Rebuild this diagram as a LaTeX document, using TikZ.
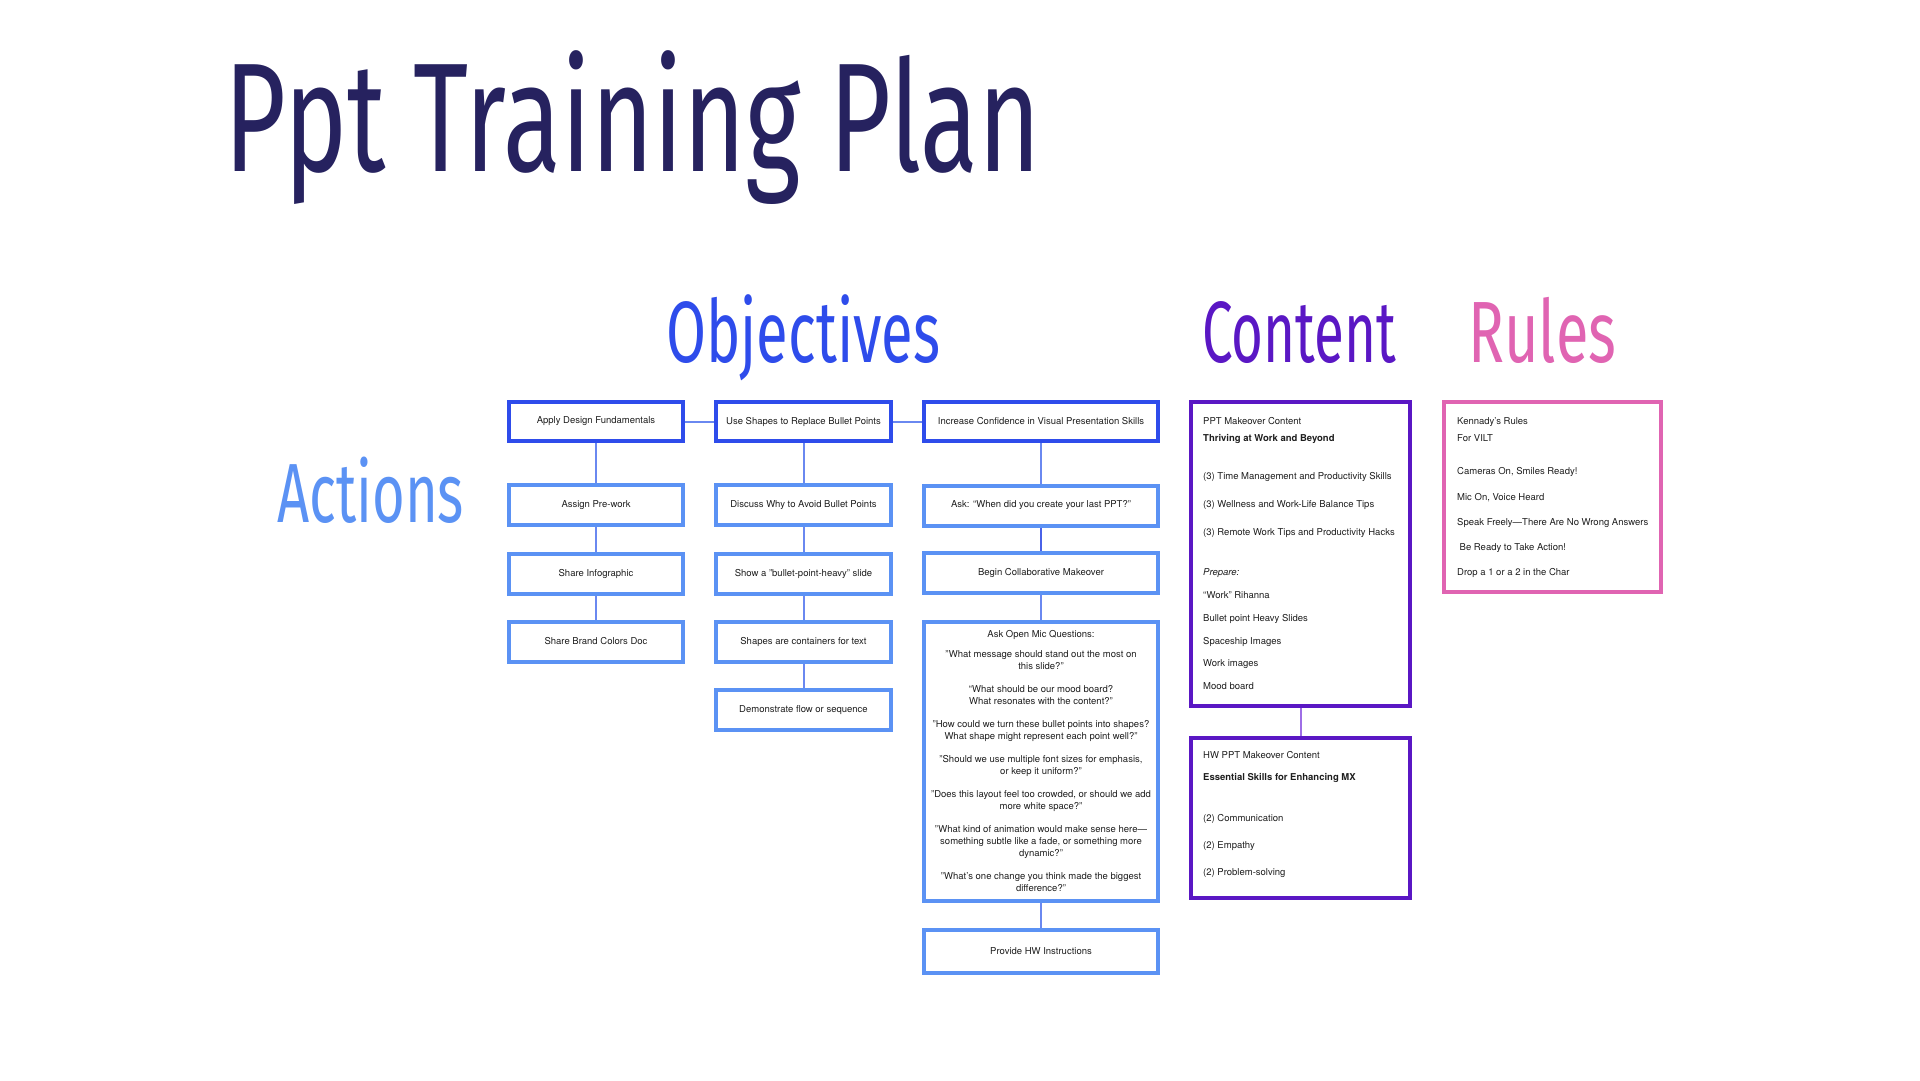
\documentclass[tikz,border=0pt]{standalone}
\usepackage{fontspec}
\setmainfont{TeX Gyre Heros}
\IfFontExistsTF{FiraSans-Light.otf}
  {\newfontfamily\headfont{FiraSans-Light.otf}}
  {\newfontfamily\headfont{Fira Sans}}
\usepackage{graphicx}

\definecolor{titlenavy}{HTML}{26225F}
\definecolor{objblue}{HTML}{2E4CEB}
\definecolor{actblue}{HTML}{5B92F4}
\definecolor{contpurple}{HTML}{5A17C4}
\definecolor{rulepink}{HTML}{E064B2}
\definecolor{linkblue}{HTML}{6A88F0}
\definecolor{linkdark}{HTML}{4A62E8}
\definecolor{linkpurple}{HTML}{9E6EE6}
\definecolor{ink}{HTML}{1E1E1E}

\newcommand\cellfont{\fontsize{9.5}{12}\selectfont}
\newcommand\headword[2]{\resizebox{#1}{\height}{#2}}

\tikzset{
  boxbase/.style={line width=4pt, inner sep=0pt, align=center, font=\cellfont, text=ink},
  objbox/.style={boxbase, draw=objblue, minimum height=39pt},
  actbox/.style={boxbase, draw=actblue, minimum height=40pt},
  contbox/.style={boxbase, draw=contpurple, minimum width=219pt},
  rulebox/.style={boxbase, draw=rulepink, minimum width=217pt},
  item/.style={anchor=base west, inner sep=0pt, font=\cellfont, text=ink},
  heading/.style={anchor=base west, inner sep=0pt},
  link/.style={draw=linkblue, line width=2pt},
}

\begin{document}
\begin{tikzpicture}[x=1pt, y=-1pt]
  \useasboundingbox (0,0) rectangle (1920,1080);

  % headings
  \node[heading, text=titlenavy, font=\headfont\fontsize{155}{155}\selectfont] (title) at (224,171) {\headword{817pt}{Ppt Training Plan}};
  \node[heading, text=objblue, font=\headfont\fontsize{87}{87}\selectfont] (objhead) at (666,362) {\headword{274pt}{Objectives}};
  \node[heading, text=contpurple, font=\headfont\fontsize{87}{87}\selectfont] (conthead) at (1202,362) {\headword{194pt}{Content}};
  \node[heading, text=rulepink, font=\headfont\fontsize{87}{87}\selectfont] (rulehead) at (1468,362) {\headword{148pt}{Rules}};
  \node[heading, text=actblue, font=\headfont\fontsize{84}{84}\selectfont] (acthead) at (277,522) {\headword{187pt}{Actions}};

  % objectives
  \node[objbox, minimum width=174pt] (apply) at (596,421.5) {Apply Design Fundamentals};
  \node[objbox, minimum width=175pt] (shapes) at (803.5,421.5) {Use Shapes to Replace Bullet Points};
  \node[objbox, minimum width=234pt] (confid) at (1041,421.5) {Increase Confidence in Visual Presentation Skills};

  % actions, first column
  \node[actbox, minimum width=174pt] (prework) at (596,505) {Assign Pre-work};
  \node[actbox, minimum width=174pt] (infog) at (596,573.5) {Share Infographic};
  \node[actbox, minimum width=174pt] (brand) at (596,641.5) {Share Brand Colors Doc};

  % actions, second column
  \node[actbox, minimum width=175pt] (discuss) at (803.5,505) {Discuss Why to Avoid Bullet Points};
  \node[actbox, minimum width=175pt] (heavy) at (803.5,573.5) {Show a "bullet-point-heavy" slide};
  \node[actbox, minimum width=175pt] (contain) at (803.5,641.5) {Shapes are containers for text};
  \node[actbox, minimum width=175pt] (flow) at (803.5,710) {Demonstrate flow or sequence};

  % actions, third column
  \node[actbox, minimum width=234pt] (askppt) at (1041,505.5) {Ask: “When did you create your last PPT?”};
  \node[actbox, minimum width=234pt] (makeover) at (1041,573) {Begin Collaborative Makeover};
  \node[actbox, minimum width=234pt, minimum height=279pt] (openmic) at (1041,761.5) {Ask Open Mic Questions:\\[8pt]
    "What message should stand out the most on\\this slide?"\\[11pt]
    “What should be our mood board?\\What resonates with the content?”\\[11pt]
    "How could we turn these bullet points into shapes?\\What shape might represent each point well?"\\[11pt]
    "Should we use multiple font sizes for emphasis,\\or keep it uniform?"\\[11pt]
    "Does this layout feel too crowded, or should we add\\more white space?"\\[11pt]
    "What kind of animation would make sense here—\\something subtle like a fade, or something more\\dynamic?"\\[11pt]
    "What’s one change you think made the biggest\\difference?"};
  \node[actbox, minimum width=234pt, minimum height=43pt] (hwinstr) at (1041,951.5) {Provide HW Instructions};

  % content
  \node[contbox, minimum height=304pt] (ppt) at (1300.5,554) {};
  \foreach \y/\txt [count=\i] in {421/PPT Makeover Content, 438/\textbf{Thriving at Work and Beyond},
      476/(3) Time Management and Productivity Skills, 504/(3) Wellness and Work-Life Balance Tips,
      532/(3) Remote Work Tips and Productivity Hacks, 572/\textit{Prepare:}, 595/“Work” Rihanna,
      618/Bullet point Heavy Slides, 641/Spaceship Images, 663/Work images, 686/Mood board}
    \node[item] (ppt\i) at (1203,\y+3.5) {\txt};

  \node[contbox, minimum height=160pt] (hw) at (1300.5,818) {};
  \foreach \y/\txt [count=\i] in {755/HW PPT Makeover Content, 777/\textbf{Essential Skills for Enhancing MX},
      818/(2) Communication, 845/(2) Empathy, 872/(2) Problem-solving}
    \node[item] (hw\i) at (1203,\y+3.5) {\txt};

  % rules
  \node[rulebox, minimum height=190pt] (rules) at (1552.5,497) {};
  \foreach \y/\txt [count=\i] in {421/Kennady’s Rules, 438/For VILT, 471/{Cameras On, Smiles Ready!},
      497/{Mic On, Voice Heard}, 522/Speak Freely—There Are No Wrong Answers,
      547/{\hspace{2.5pt}Be Ready to Take Action!}, 572/Drop a 1 or a 2 in the Char}
    \node[item] (rule\i) at (1457,\y+3.5) {\txt};

  % connectors
  \draw[link] (apply) -- (shapes);
  \draw[link] (shapes) -- (confid);
  \draw[link] (apply) -- (prework);
  \draw[link] (prework) -- (infog);
  \draw[link] (infog) -- (brand);
  \draw[link] (shapes) -- (discuss);
  \draw[link] (discuss) -- (heavy);
  \draw[link] (heavy) -- (contain);
  \draw[link] (contain) -- (flow);
  \draw[link] (confid) -- (askppt);
  \draw[link, draw=linkdark, line width=2.5pt] (askppt) -- (makeover);
  \draw[link] (makeover) -- (openmic);
  \draw[link] (openmic) -- (hwinstr);
  \draw[link, draw=linkpurple] (ppt) -- (hw);
\end{tikzpicture}
\end{document}
